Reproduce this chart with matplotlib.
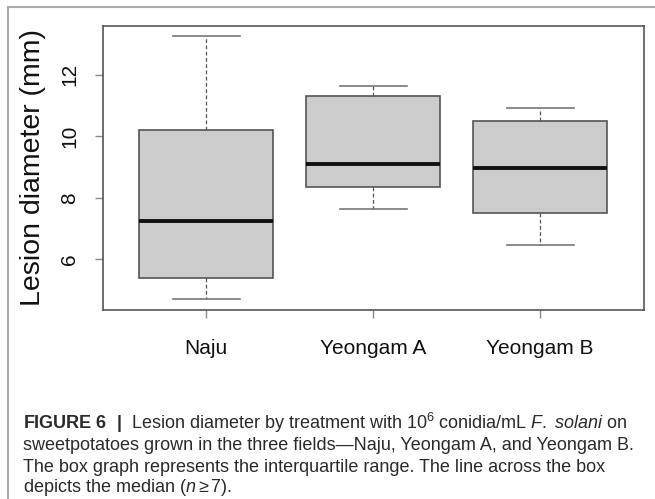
import matplotlib
matplotlib.use('Agg')
import matplotlib.pyplot as plt
from matplotlib.lines import Line2D

plt.rcParams['font.family'] = ['Liberation Sans', 'DejaVu Sans']
plt.rcParams['mathtext.fontset'] = 'custom'
plt.rcParams['mathtext.rm'] = 'Liberation Sans'
plt.rcParams['mathtext.it'] = 'Liberation Sans:italic'
plt.rcParams['mathtext.bf'] = 'Liberation Sans:bold'

# data
fields = ['Naju', 'Yeongam A', 'Yeongam B']
whisker_low = [4.70, 7.63, 6.47]
q1 = [5.40, 8.36, 7.49]
median = [7.23, 9.11, 8.96]
q3 = [10.20, 11.31, 10.49]
whisker_high = [13.27, 11.64, 10.92]
y_ticks = [6, 8, 10, 12]

caption = [
    r"$\mathbf{FIGURE\ 6}$  $\mathbf{|}$  Lesion diameter by treatment with 10$^6$ conidia/mL $\mathit{F.}$ $\mathit{solani}$ on",
    "sweetpotatoes grown in the three fields\u2014Naju, Yeongam A, and Yeongam B.",
    "The box graph represents the interquartile range. The line across the box",
    r"depicts the median ($\mathit{n}\geq$7).",
]

W, H = 655, 499
fig = plt.figure(figsize=(W / 100, H / 100), dpi=100)
ax = fig.add_axes([102.7 / W, 1 - 310 / H, 541 / W, 284 / H])

stats = []
for i in range(len(fields)):
    stats.append(dict(label=fields[i], whislo=whisker_low[i], q1=q1[i], med=median[i],
                      q3=q3[i], whishi=whisker_high[i], fliers=[]))

ax.bxp(stats, positions=[1, 2, 3], widths=0.8, capwidths=0.4, patch_artist=True,
       showfliers=False,
       boxprops=dict(facecolor='#cccccc', edgecolor='#555555', linewidth=1.2),
       medianprops=dict(color='#111111', linewidth=2.8),
       whiskerprops=dict(color='#555555', linestyle=(0, (3, 2)), linewidth=0.9),
       capprops=dict(color='#777777', linewidth=1.2))

ax.set_xlim(0.38, 3.62)
ax.set_ylim(4.35, 13.59)
ax.set_yticks(y_ticks)
ax.set_yticklabels([str(t) for t in y_ticks], rotation=90, va='center')
ax.set_xticks([1, 2, 3])
ax.set_xticklabels(fields)
ax.tick_params(axis='both', direction='out', length=6, color='#888888', width=1,
               labelsize=15, labelcolor='#111111')
ax.tick_params(axis='y', pad=11)
ax.tick_params(axis='x', pad=15)
for s in ax.spines.values():
    s.set_color('#555555')
    s.set_linewidth(1.2)

fig.text(33 / W, 1 - 168 / H, 'Lesion diameter (mm)', rotation=90, ha='center', va='center',
         fontsize=20.5, color='#111111')

# caption
ys = [423, 445, 467, 488]
for line, y in zip(caption, ys):
    fig.text(23 / W, 1 - y / H, line, ha='left', va='center', fontsize=13, color='#2a2a2a')

# outer frame (top and left only)
fig.add_artist(Line2D([8 / W, 1], [1 - 7 / H, 1 - 7 / H], color='#aaaaaa', lw=1.5))
fig.add_artist(Line2D([8 / W, 8 / W], [1 - 7 / H, 0], color='#aaaaaa', lw=1.5))

fig.savefig('out.png', dpi=100)
